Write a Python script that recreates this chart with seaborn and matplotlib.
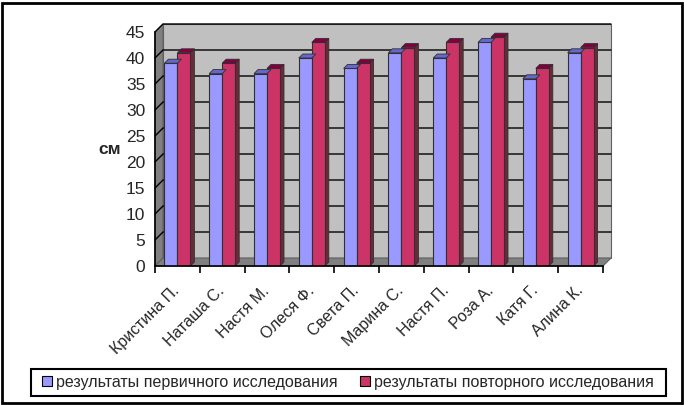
import pandas as pd
import matplotlib.pyplot as plt
from matplotlib.patches import Rectangle, Polygon
import seaborn as sns

# данные
names = ['Кристина П.', 'Наташа С.', 'Настя М.', 'Олеся Ф.', 'Света П.',
         'Марина С.', 'Настя П.', 'Роза А.', 'Катя Г.', 'Алина К.']
first = [39, 37, 37, 40, 38, 41, 40, 43, 36, 41]
second = [41, 39, 38, 43, 39, 42, 43, 44, 38, 42]
s1 = 'результаты первичного исследования'
s2 = 'результаты повторного исследования'
yticks = list(range(0, 46, 5))

df = pd.DataFrame({'name': names * 2,
                   'value': first + second,
                   'series': [s1] * len(names) + [s2] * len(names)})

sns.set_style('white')
plt.rcParams['font.family'] = ['Liberation Sans', 'DejaVu Sans']

fig = plt.figure(figsize=(6.84, 4.05), dpi=100)
ax = fig.add_axes([155 / 684, 139 / 405, 448 / 684, 234 / 405])
ax.set_xlim(-0.5, len(names) - 0.5)
ax.set_ylim(0, 45)
ax.patch.set_visible(False)

# псевдо-3D стенки
n = len(names)
d = 8  # глубина в пикселях
dx = d / (ax.bbox.width / n)
dy = d / (ax.bbox.height / 45)
wall_kw = dict(clip_on=False, zorder=0)
ax.add_patch(Rectangle((-0.5 + dx, dy), n, 45, facecolor='#c0c0c0',
                       edgecolor='#606060', lw=0.8, **wall_kw))
ax.add_patch(Polygon([(-0.5, 0), (-0.5 + dx, dy), (-0.5 + dx, 45 + dy), (-0.5, 45)],
                     facecolor='#808080', edgecolor='#606060', lw=0.8, **wall_kw))
ax.add_patch(Polygon([(-0.5, 0), (n - 0.5, 0), (n - 0.5 + dx, dy), (-0.5 + dx, dy)],
                     facecolor='#808080', edgecolor='#606060', lw=0.8, **wall_kw))
for y in yticks[1:]:
    ax.plot([-0.5, -0.5 + dx, n - 0.5 + dx], [y, y + dy, y + dy],
            color='black', lw=1, clip_on=False, zorder=0.5)

sns.barplot(data=df, x='name', y='value', hue='series', ax=ax,
            palette={s1: '#9999ff', s2: '#cc3366'}, width=0.58,
            edgecolor='#303030', linewidth=0.8, saturation=1, zorder=2)

# крышки и боковины столбцов
tops = {s1: '#6666cc', s2: '#800040'}
sides = {s1: '#5c5ca8', s2: '#6b2a3a'}
bd = 4
bdx = bd / (ax.bbox.width / n)
bdy = bd / (ax.bbox.height / 45)
bars = [p for p in ax.patches if isinstance(p, Rectangle) and p.get_height() > 0]
bars = [p for p in bars if p.get_zorder() == 2]
for i, p in enumerate(bars):
    key = s1 if i < n else s2
    x0, w, h = p.get_x(), p.get_width(), p.get_height()
    ax.add_patch(Polygon([(x0, h), (x0 + bdx, h + bdy), (x0 + w + bdx, h + bdy), (x0 + w, h)],
                         facecolor=tops[key], edgecolor='#303030', lw=0.6, zorder=2))
    ax.add_patch(Polygon([(x0 + w, 0), (x0 + w + bdx, bdy), (x0 + w + bdx, h + bdy), (x0 + w, h)],
                         facecolor=sides[key], edgecolor='#303030', lw=0.6, zorder=1.9))

# оси
for s in ['top', 'right']:
    ax.spines[s].set_visible(False)
for s in ['left', 'bottom']:
    ax.spines[s].set_color('black')
    ax.spines[s].set_linewidth(1.2)
    ax.spines[s].set_zorder(3)
ax.set_yticks(yticks)
ax.tick_params(axis='y', length=5, width=1, color='black', labelsize=12.5, pad=2)
ax.set_xticks(range(n))
ax.set_xticklabels(names, rotation=45, ha='right', va='center',
                   rotation_mode='anchor', fontsize=11.5)
ax.set_xticks([i - 0.5 for i in range(n + 1)], minor=True)
ax.tick_params(axis='x', which='major', length=0, pad=16)
ax.tick_params(axis='x', which='minor', length=5, width=1.2, color='black', bottom=True)
ax.set_xlabel('')
ax.set_ylabel('')
fig.text(110 / 684, 1 - 149 / 405, 'см', fontsize=12.5, fontweight='bold',
         ha='center', va='center')

# легенда
handles, labels = ax.get_legend_handles_labels()
ax.get_legend().remove()
for h in handles:
    h.set_edgecolor('black')
fig.legend(handles, labels, loc='center', ncol=2,
           bbox_to_anchor=(348 / 684, 1 - 382 / 405),
           frameon=False, fontsize=11.5,
           handlelength=0.6, handleheight=0.6, handletextpad=0.25,
           borderaxespad=0, columnspacing=1.4)
fig.patches.append(Rectangle((31 / 684, 9 / 405), 635 / 684, 27 / 405,
                             transform=fig.transFigure, fill=False,
                             edgecolor='black', lw=1.5))

fig.patches.append(Rectangle((2 / 684, 2 / 405), 680 / 684, 400 / 405,
                             transform=fig.transFigure, fill=False,
                             edgecolor='black', lw=2))

fig.savefig('out.png', dpi=100, facecolor='white')
